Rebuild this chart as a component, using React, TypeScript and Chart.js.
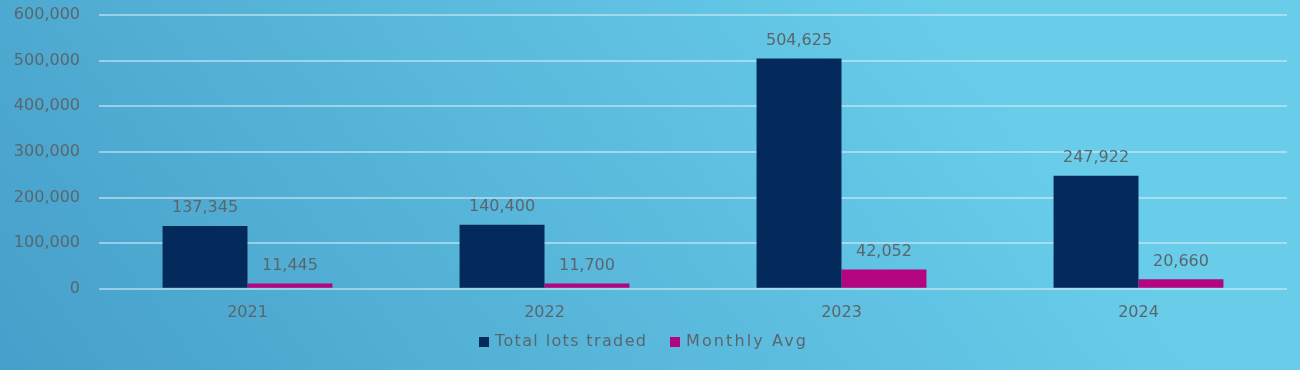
import React, { useEffect, useRef } from "react";
import { Chart, registerables } from "chart.js";

Chart.register(...registerables);

const categories = ["2021", "2022", "2023", "2024"];
const totalLots = [137345, 140400, 504625, 247922];
const monthlyAvg = [11445, 11700, 42052, 20660];
const yTicks = [0, 100000, 200000, 300000, 400000, 500000, 600000];
const seriesNames = ["Total lots traded", "Monthly Avg"];
const seriesColors = ["#042a5c", "#b3057f"];

const FONT = "'DejaVu Sans', sans-serif";
const TEXT = "#5a666d";
const SIZE = 16;

const bgPlugin = {
  id: "bg",
  beforeDraw(chart: any) {
    const { ctx, width, height } = chart;
    const g = ctx.createLinearGradient(0, height, width * 0.6, -height * 0.6);
    g.addColorStop(0, "#469fca");
    g.addColorStop(1, "#69cdea");
    ctx.save();
    ctx.fillStyle = g;
    ctx.fillRect(0, 0, width, height);
    ctx.restore();
  },
};

const labelPlugin = {
  id: "vlabels",
  afterDatasetsDraw(chart: any) {
    const { ctx } = chart;
    ctx.save();
    ctx.font = `${SIZE}px ${FONT}`;
    ctx.fillStyle = TEXT;
    ctx.textAlign = "center";
    ctx.textBaseline = "middle";
    chart.data.datasets.forEach((ds: any, i: number) => {
      const meta = chart.getDatasetMeta(i);
      meta.data.forEach((bar: any, j: number) => {
        const v = ds.data[j] as number;
        ctx.fillText(v.toLocaleString("en-US"), bar.x, bar.y - 18);
      });
    });
    ctx.restore();
  },
};

const legendTextWidths = [151, 120];

const legendPlugin = {
  id: "customLegend",
  afterDraw(chart: any) {
    const { ctx } = chart;
    ctx.save();
    ctx.font = `16px ${FONT}`;
    const box = 10;
    const gapBoxText = 6;
    const gapItems = 24;
    let x = 479;
    const y = 342;
    chart.data.datasets.forEach((ds: any, i: number) => {
      ctx.fillStyle = ds.backgroundColor;
      ctx.fillRect(x, y - box / 2, box, box);
      x += box + gapBoxText;
      ctx.fillStyle = TEXT;
      ctx.textAlign = "left";
      ctx.textBaseline = "middle";
      (ctx as any).letterSpacing = "0px";
      const w = ctx.measureText(ds.label).width;
      const n = Math.max(ds.label.length - 1, 1);
      const ls = Math.max((legendTextWidths[i] - w) / n, 0);
      (ctx as any).letterSpacing = `${ls}px`;
      ctx.fillText(ds.label, x, y);
      (ctx as any).letterSpacing = "0px";
      x += legendTextWidths[i] + gapItems;
    });
    ctx.restore();
  },
};

export default function App() {
  const ref = useRef<HTMLCanvasElement>(null);
  useEffect(() => {
    document.body.style.margin = "0";
    const chart = new Chart(ref.current!, {
      type: "bar",
      data: {
        labels: categories,
        datasets: [
          { label: seriesNames[0], data: totalLots, backgroundColor: seriesColors[0] },
          { label: seriesNames[1], data: monthlyAvg, backgroundColor: seriesColors[1] },
        ],
      },
      options: {
        animation: false,
        responsive: false,
        maintainAspectRatio: false,
        layout: { padding: { top: 0, right: 13, bottom: 42, left: 0 } },
        datasets: { bar: { barPercentage: 1, categoryPercentage: 0.572 } } as any,
        plugins: {
          legend: { display: false },
          tooltip: { enabled: false },
        },
        scales: {
          x: {
            grid: { display: false },
            border: { display: false },
            ticks: { font: { family: FONT, size: SIZE }, color: TEXT, padding: 6 },
          },
          y: {
            min: 0,
            max: 600000,
            afterBuildTicks(axis: any) {
              axis.ticks = yTicks.map((v) => ({ value: v }));
            },
            afterFit(axis: any) {
              axis.width = 99;
              axis.paddingTop = 15;
            },
            grid: { color: "rgba(215,238,248,0.55)", lineWidth: 2, drawTicks: false },
            border: { display: false },
            ticks: {
              font: { family: FONT, size: SIZE },
              color: TEXT,
              padding: 19,
              callback: (v: any) => Number(v).toLocaleString("en-US"),
            },
          },
        },
      },
      plugins: [bgPlugin, labelPlugin, legendPlugin],
    });
    return () => chart.destroy();
  }, []);
  return <canvas ref={ref} width={1300} height={370} style={{ display: "block" }} />;
}
